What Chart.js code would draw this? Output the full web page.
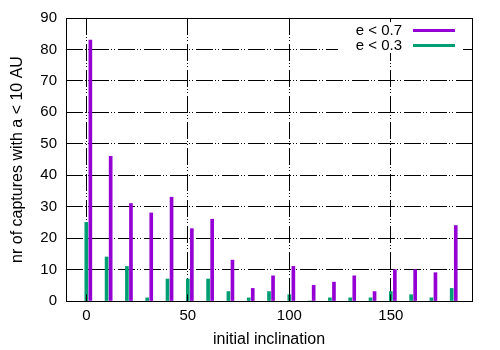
<!DOCTYPE html>
<html>
<head>
<meta charset="utf-8">
<script src="https://cdn.jsdelivr.net/npm/chart.js@4.4.0/dist/chart.umd.min.js"></script>
<style>
  html, body { margin: 0; padding: 0; background: #fff; }
  #wrap { width: 500px; height: 350px; }
</style>
</head>
<body>
<div id="wrap"><canvas id="chart"></canvas></div>
<script>
const inclinations = [0, 10, 20, 30, 40, 50, 60, 70, 80, 90, 100, 110, 120, 130, 140, 150, 160, 170, 180];
const capturesE07 = [83, 46, 31, 28, 33, 23, 26, 13, 4, 8, 11, 5, 6, 8, 3, 10, 10, 9, 24];
const capturesE03 = [25, 14, 11, 1, 7, 7, 7, 3, 1, 3, 2, 0, 1, 1, 1, 3, 2, 1, 4];
const seriesLabels = ['e < 0.7', 'e < 0.3'];
const xTicks = [0, 50, 100, 150];
const yTicks = [0, 10, 20, 30, 40, 50, 60, 70, 80, 90];

const PURPLE = '#9400d3';
const GREEN = '#009e73';
const FONT = '"Liberation Sans", Arial, sans-serif';
const gridDash = [17, 2, 1, 2, 1, 3];

const align = (p) => Math.round(p - 0.5) + 0.5;

// inward ticks on all four sides + solid border, like gnuplot
const gnuplotFrame = {
  id: 'gnuplotFrame',
  afterDatasetsDraw: (chart) => {
    const { ctx, chartArea: { left, top, right, bottom }, scales: { x, y } } = chart;
    const L = align(left), R = align(right), T = align(top), B = align(bottom);
    const len = 7;
    ctx.save();
    ctx.strokeStyle = '#000';
    ctx.lineWidth = 1;
    ctx.setLineDash([]);
    ctx.beginPath();
    yTicks.forEach(v => {
      const py = align(y.getPixelForValue(v));
      ctx.moveTo(L, py); ctx.lineTo(L + len, py);
      ctx.moveTo(R, py); ctx.lineTo(R - len, py);
    });
    xTicks.forEach(v => {
      const px = align(x.getPixelForValue(v));
      ctx.moveTo(px, B); ctx.lineTo(px, B - len);
      ctx.moveTo(px, T); ctx.lineTo(px, T + len);
    });
    ctx.stroke();
    ctx.strokeRect(L, T, R - L, B - T);
    ctx.restore();
  }
};

// key box inside the top right corner
const gnuplotKey = {
  id: 'gnuplotKey',
  afterDraw: (chart) => {
    const { ctx } = chart;
    ctx.save();
    ctx.fillStyle = '#fff';
    ctx.fillRect(338, 22, 125, 31);
    ctx.font = '15px ' + FONT;
    ctx.textAlign = 'right';
    ctx.textBaseline = 'middle';
    chart.data.datasets.forEach((ds, i) => {
      const yy = 30.5 + i * 15;
      ctx.fillStyle = '#000';
      ctx.fillText(ds.label, 402, yy);
      ctx.strokeStyle = ds.backgroundColor;
      ctx.lineWidth = 3;
      ctx.beginPath();
      ctx.moveTo(413, yy);
      ctx.lineTo(455, yy);
      ctx.stroke();
    });
    ctx.restore();
  }
};

const ctx = document.getElementById('chart');

new Chart(ctx, {
  type: 'bar',
  data: {
    datasets: [{
      label: seriesLabels[0],
      data: inclinations.map((inc, i) => ({ x: inc + 2, y: capturesE07[i] })),
      backgroundColor: PURPLE,
      borderWidth: 0,
      barThickness: 3,
      grouped: false,
    }, {
      label: seriesLabels[1],
      data: inclinations.map((inc, i) => ({ x: inc, y: capturesE03[i] })),
      backgroundColor: GREEN,
      borderWidth: 0,
      barThickness: 3,
      grouped: false,
    }]
  },
  options: {
    responsive: true,
    maintainAspectRatio: false,
    animation: false,
    layout: {
      padding: { left: 0, right: 28, top: 18, bottom: 0 }
    },
    plugins: {
      legend: { display: false },
      tooltip: { enabled: false },
    },
    scales: {
      x: {
        type: 'linear',
        min: -10,
        max: 190,
        offset: false,
        afterBuildTicks: (scale) => {
          scale.ticks = xTicks.map(v => ({ value: v }));
        },
        afterFit: (scale) => { scale.height = 49; },
        border: { display: false, dash: gridDash },
        grid: {
          offset: false,
          color: '#000',
          lineWidth: 1,
          drawTicks: false,
        },
        ticks: {
          color: '#000',
          padding: 6,
          font: { family: FONT, size: 15 },
          maxRotation: 0,
        },
        title: {
          display: true,
          text: 'initial inclination',
          color: '#000',
          font: { family: FONT, size: 16 },
          padding: { top: 0, bottom: 1 },
        }
      },
      y: {
        min: 0,
        max: 90,
        afterBuildTicks: (scale) => {
          scale.ticks = yTicks.map(v => ({ value: v }));
        },
        afterFit: (scale) => { scale.width = 66; },
        border: { display: false, dash: gridDash },
        grid: {
          color: '#000',
          lineWidth: 1,
          drawTicks: false,
        },
        ticks: {
          color: '#000',
          padding: 9,
          font: { family: FONT, size: 15 },
        },
        title: {
          display: true,
          text: 'nr of captures with a < 10 AU',
          color: '#000',
          font: { family: FONT, size: 16 },
          padding: { top: 8, bottom: 0 },
        }
      }
    }
  },
  plugins: [gnuplotFrame, gnuplotKey],
});
</script>
</body>
</html>
